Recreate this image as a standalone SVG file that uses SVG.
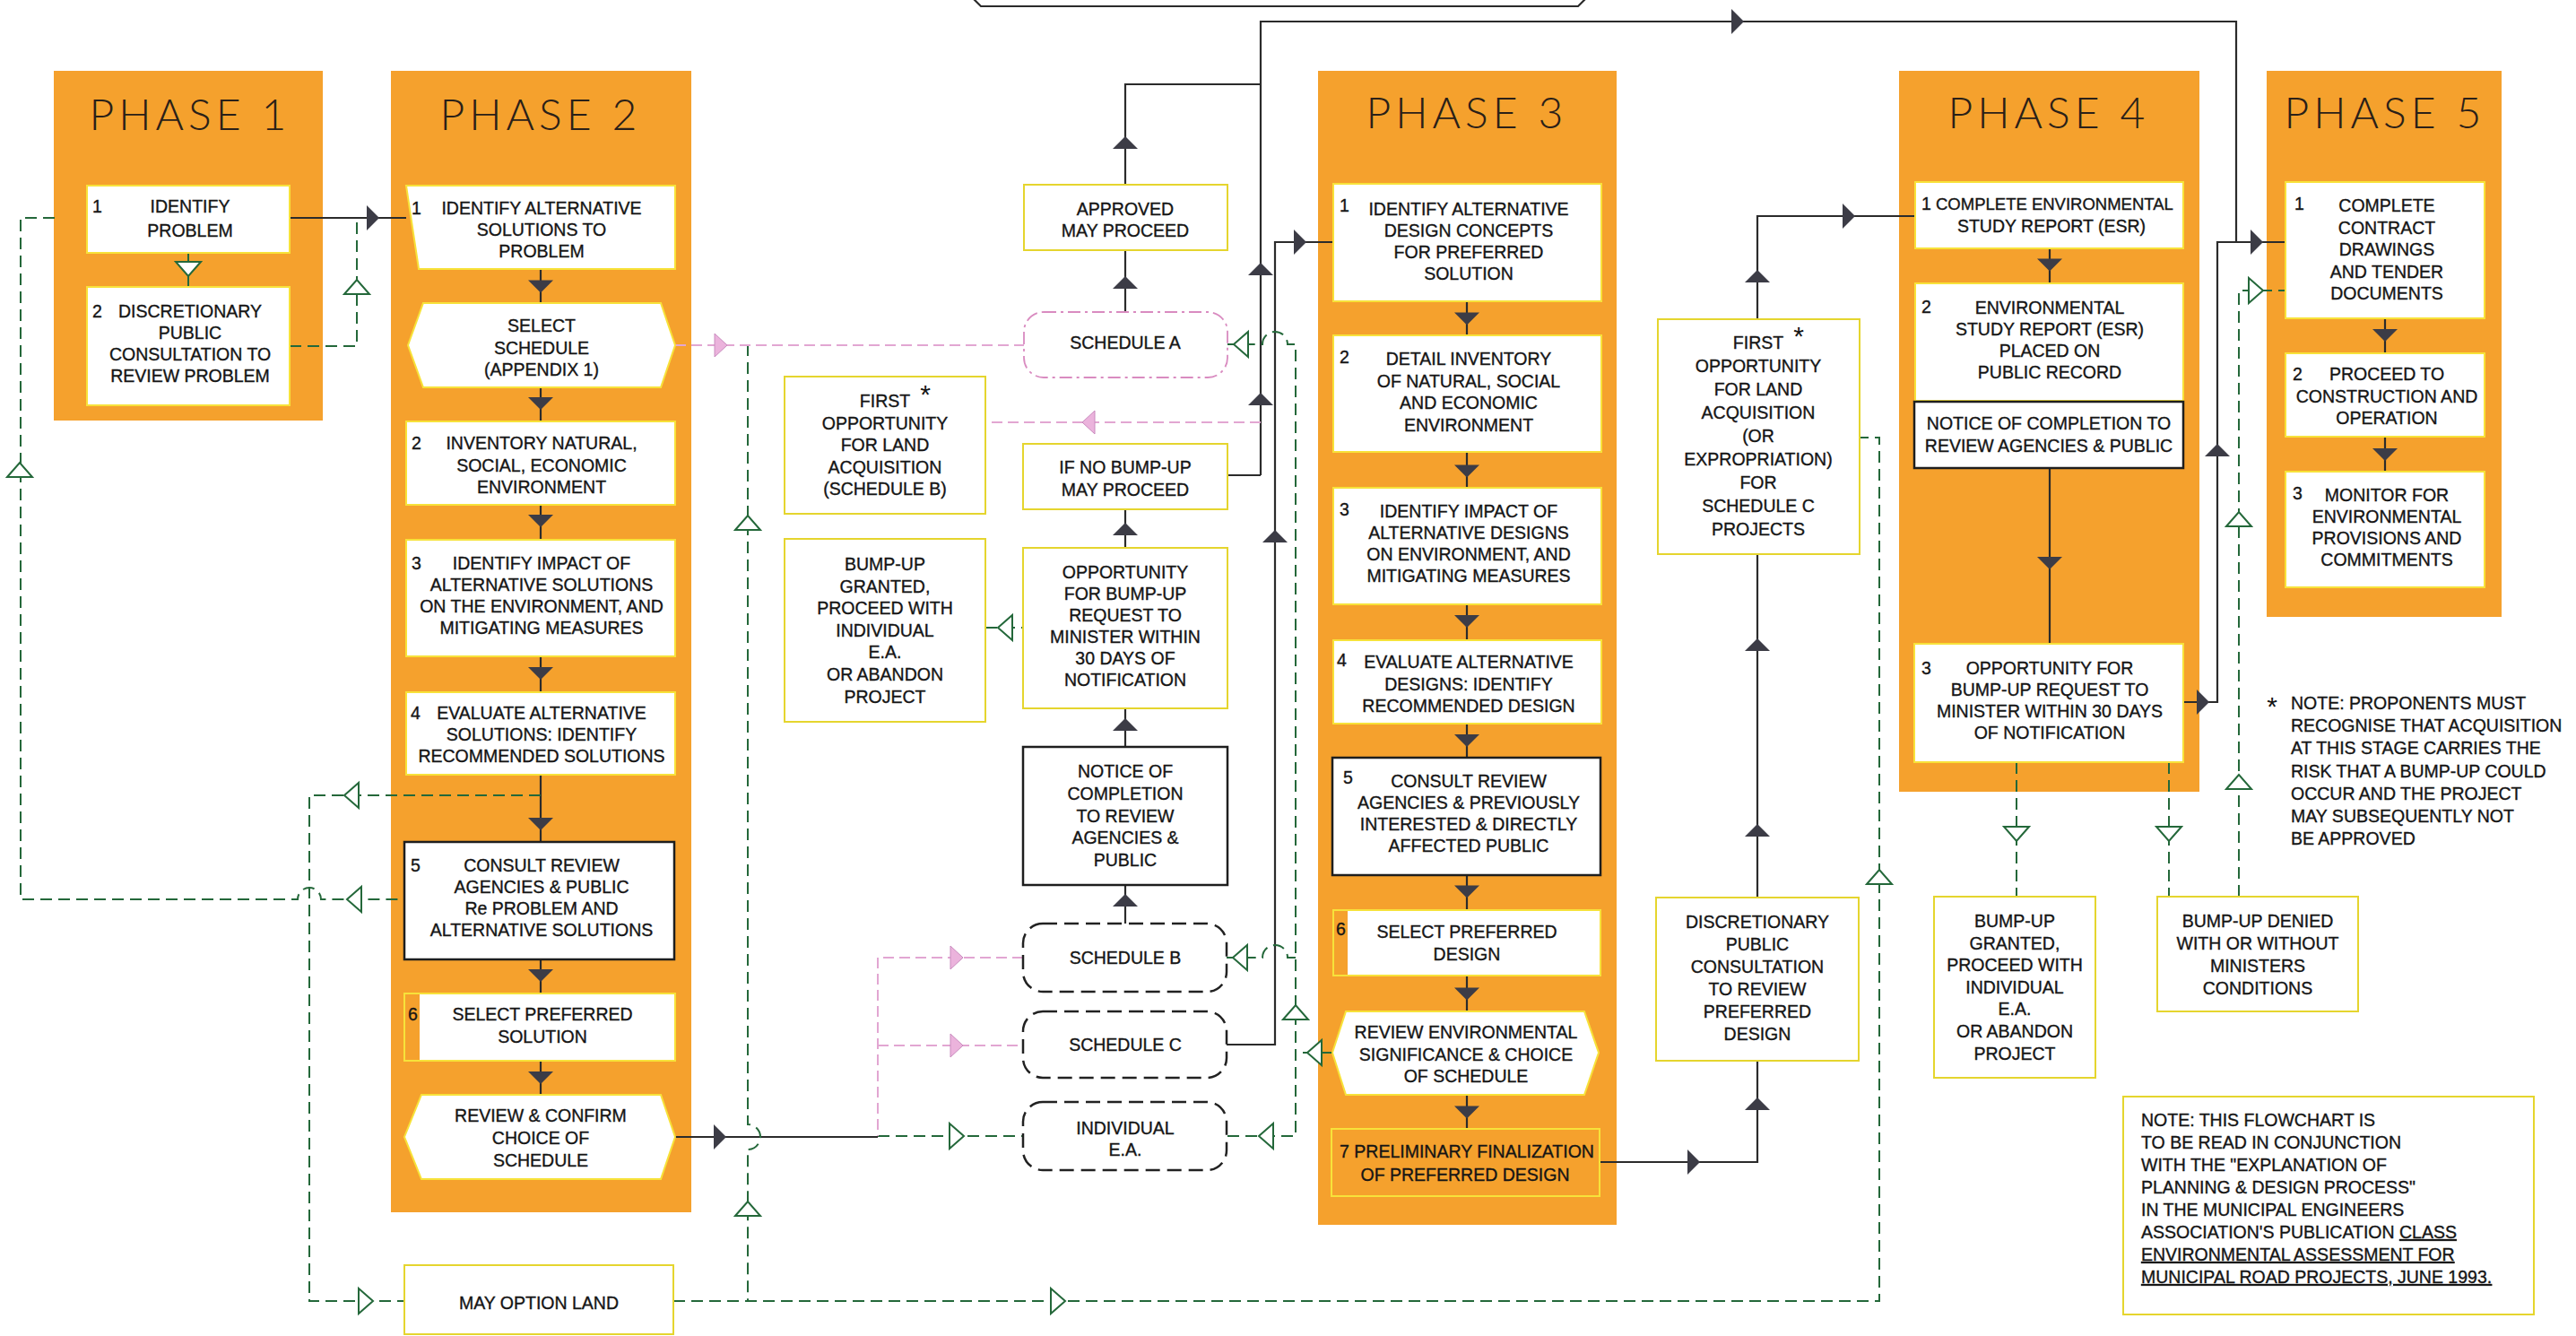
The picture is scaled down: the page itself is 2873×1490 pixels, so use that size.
<svg xmlns="http://www.w3.org/2000/svg" xmlns:xlink="http://www.w3.org/1999/xlink" width="2873" height="1490" viewBox="0 0 2873 1490">
<defs>
<style>
.panel{fill:#F5A12D}
.hd{font-family:Lato,'Open Sans','Liberation Sans',sans-serif;font-weight:300;font-size:48px;letter-spacing:5px;fill:#2a2018;text-anchor:middle}
.t{font-family:'Liberation Sans',Arial,sans-serif;font-size:19.5px;fill:#151515;stroke:#151515;stroke-width:0.35;text-anchor:middle}
.n{font-family:'Liberation Sans',Arial,sans-serif;font-size:19.5px;fill:#151515;stroke:#151515;stroke-width:0.35;text-anchor:start}
.ast{font-family:'Liberation Sans',Arial,sans-serif;font-size:30px;fill:#151515;text-anchor:middle}
.wb{fill:#fff;stroke:#F7E23A;stroke-width:2}
.yb{fill:#fff;stroke:#E5D52E;stroke-width:2}
.kb{fill:#fff;stroke:#1e1e1e;stroke-width:2.5}
.ob{fill:none;stroke:#F7E23A;stroke-width:2}
.sp{fill:#fff;stroke:#D98BC0;stroke-width:1.8;stroke-dasharray:14 5 3 5}
.sk{fill:#fff;stroke:#222;stroke-width:2.5;stroke-dasharray:16 8}
.bk{fill:none;stroke:#2b2b2b;stroke-width:2.2}
.gd{fill:none;stroke:#24683A;stroke-width:2;stroke-dasharray:13 7}
.gs{fill:none;stroke:#24683A;stroke-width:2}
.pd{fill:none;stroke:#E2A6D2;stroke-width:2;stroke-dasharray:12 6}
</style>
<path id="af" d="M-7,-14 L7,0 L-7,14 Z" fill="#3C3C46"/>
<path id="ag" d="M-8,-14 L8,0 L-8,14 Z" fill="#fff" stroke="#24683A" stroke-width="2"/>
<path id="ap" d="M-7,-13 L7,0 L-7,13 Z" fill="#EBB3DC" stroke="#C98BBE" stroke-width="1"/>
</defs>
<rect width="2873" height="1490" fill="#fff"/>

<g id="phase1"><rect class="panel" x="60" y="79" width="300" height="390"/><text class="hd" x="212" y="145">PHASE 1</text></g>
<g id="phase2"><rect class="panel" x="436" y="79" width="335" height="1273"/><text class="hd" x="603" y="145">PHASE 2</text></g>
<g id="phase3"><rect class="panel" x="1470" y="79" width="333" height="1287"/><text class="hd" x="1636" y="143">PHASE 3</text></g>
<g id="phase4"><rect class="panel" x="2118" y="79" width="335" height="804"/><text class="hd" x="2285" y="143">PHASE 4</text></g>
<g id="phase5"><rect class="panel" x="2528" y="79" width="262" height="609"/><text class="hd" x="2660" y="143">PHASE 5</text></g>

<g id="connectors">
<path class="bk" d="M1086 -1 L1094 7 H1760 L1768 -1"/>
<path class="bk" d="M323 243 H453"/>
<path class="bk" d="M603 300 V1221"/>
<path class="bk" d="M753 1268 H979"/>
<path class="bk" d="M1255 1030 V568 M1369 530 H1406"/>
<path class="bk" d="M1255 348 V94 H1406"/>
<path class="bk" d="M1406 530 V24 H2494 V270"/>
<path class="bk" d="M1368 1165 H1422 V270 H1487"/>
<path class="bk" d="M1636 336 V1259"/>
<path class="bk" d="M1784 1296 H1960 V241 H2136"/>
<path class="bk" d="M2286 277 V718"/>
<path class="bk" d="M2435 783 H2473 V270 H2549"/>
<path class="bk" d="M2660 355 V526"/>
<path class="gs" d="M210 282 V320"/>
<path class="gd" d="M323 386 H398 V243"/>
<path class="gd" d="M61 243 H23 V1003 H332 A13 13 0 0 1 358 1003 H451"/>
<path class="gd" d="M603 887 H345 V1451 H451"/>
<path class="gd" d="M751 1451 H2096 V488 H2074"/>
<path class="gd" d="M834 384 V1254 A14 14 0 0 1 834 1282 V1451"/>
<path class="gd" d="M1099 700 H1141"/>
<path class="gd" d="M979 1267 H1141"/>
<path class="gd" d="M1486 1174 H1445"/>
<path class="gd" d="M1369 1267 H1445 V384 H1436 A14 14 0 0 0 1408 384 H1369"/>
<path class="gd" d="M1445 1068 H1436 A14 14 0 0 0 1408 1068 H1368"/>
<path class="gd" d="M2249 850 V1000 M2419 850 V1000"/>
<path class="gd" d="M2497 1000 V324 H2549"/>
<path class="pd" d="M753 385 H1142"/>
<path class="pd" d="M1406 471 H1099"/>
<path class="pd" d="M1141 1068 H979 V1267 M979 1166 H1141"/>

<use href="#af" transform="translate(416,243)"/>
<use href="#af" transform="translate(603,319.5) rotate(90)"/>
<use href="#af" transform="translate(603,450) rotate(90)"/>
<use href="#af" transform="translate(603,581) rotate(90)"/>
<use href="#af" transform="translate(603,751) rotate(90)"/>
<use href="#af" transform="translate(603,919) rotate(90)"/>
<use href="#af" transform="translate(603,1088) rotate(90)"/>
<use href="#af" transform="translate(603,1202) rotate(90)"/>
<use href="#af" transform="translate(803,1268)"/>
<use href="#af" transform="translate(1255,159) rotate(-90)"/>
<use href="#af" transform="translate(1255,315) rotate(-90)"/>
<use href="#af" transform="translate(1255,590) rotate(-90)"/>
<use href="#af" transform="translate(1255,808) rotate(-90)"/>
<use href="#af" transform="translate(1255,1004) rotate(-90)"/>
<use href="#af" transform="translate(1406,300) rotate(-90)"/>
<use href="#af" transform="translate(1406,445) rotate(-90)"/>
<use href="#af" transform="translate(1422,598) rotate(-90)"/>
<use href="#af" transform="translate(1450,270)"/>
<use href="#af" transform="translate(1938,24)"/>
<use href="#af" transform="translate(1636,355.5) rotate(90)"/>
<use href="#af" transform="translate(1636,525.5) rotate(90)"/>
<use href="#af" transform="translate(1636,693) rotate(90)"/>
<use href="#af" transform="translate(1636,826) rotate(90)"/>
<use href="#af" transform="translate(1636,994.5) rotate(90)"/>
<use href="#af" transform="translate(1636,1108.5) rotate(90)"/>
<use href="#af" transform="translate(1636,1240.5) rotate(90)"/>
<use href="#af" transform="translate(1889,1296)"/>
<use href="#af" transform="translate(1960,1231) rotate(-90)"/>
<use href="#af" transform="translate(1960,926) rotate(-90)"/>
<use href="#af" transform="translate(1960,719) rotate(-90)"/>
<use href="#af" transform="translate(1960,308) rotate(-90)"/>
<use href="#af" transform="translate(2062,241)"/>
<use href="#af" transform="translate(2286,295.5) rotate(90)"/>
<use href="#af" transform="translate(2286,628) rotate(90)"/>
<use href="#af" transform="translate(2457,783)"/>
<use href="#af" transform="translate(2473,502) rotate(-90)"/>
<use href="#af" transform="translate(2517,270)"/>
<use href="#af" transform="translate(2660,374) rotate(90)"/>
<use href="#af" transform="translate(2660,507) rotate(90)"/>

<use href="#ag" transform="translate(210,300) rotate(90)"/>
<use href="#ag" transform="translate(398,320) rotate(-90)"/>
<use href="#ag" transform="translate(22,524) rotate(-90)"/>
<use href="#ag" transform="translate(392,887) rotate(180)"/>
<use href="#ag" transform="translate(395,1003) rotate(180)"/>
<use href="#ag" transform="translate(408,1451)"/>
<use href="#ag" transform="translate(834,583) rotate(-90)"/>
<use href="#ag" transform="translate(834,1348) rotate(-90)"/>
<use href="#ag" transform="translate(1180,1451)"/>
<use href="#ag" transform="translate(2096,978) rotate(-90)"/>
<use href="#ag" transform="translate(1121,700) rotate(180)"/>
<use href="#ag" transform="translate(1067,1267)"/>
<use href="#ag" transform="translate(1466,1174) rotate(180)"/>
<use href="#ag" transform="translate(1445,1129) rotate(-90)"/>
<use href="#ag" transform="translate(1384,384) rotate(180)"/>
<use href="#ag" transform="translate(1383,1068) rotate(180)"/>
<use href="#ag" transform="translate(1412,1267) rotate(180)"/>
<use href="#ag" transform="translate(2249,930) rotate(90)"/>
<use href="#ag" transform="translate(2419,930) rotate(90)"/>
<use href="#ag" transform="translate(2497,872) rotate(-90)"/>
<use href="#ag" transform="translate(2497,579) rotate(-90)"/>
<use href="#ag" transform="translate(2516,324)"/>

<use href="#ap" transform="translate(804,385)"/>
<use href="#ap" transform="translate(1214,471) rotate(180)"/>
<use href="#ap" transform="translate(1067,1068)"/>
<use href="#ap" transform="translate(1067,1166)"/>
</g>

<g id="p1-identify-problem"><rect class="wb" x="97" y="207" width="226" height="75"/><text class="n" x="103" y="237">1</text><text class="t" x="212" y="237"><tspan x="212">IDENTIFY</tspan><tspan x="212" dy="27">PROBLEM</tspan></text></g>
<g id="p1-discretionary"><rect class="wb" x="97" y="320" width="226" height="132"/><text class="n" x="103" y="354">2</text><text class="t" x="212" y="354"><tspan x="212">DISCRETIONARY</tspan><tspan x="212" dy="24">PUBLIC</tspan><tspan x="212" dy="24">CONSULTATION TO</tspan><tspan x="212" dy="24">REVIEW PROBLEM</tspan></text></g>

<g id="p2-identify-alternatives"><polygon class="wb" points="453,207 753,207 753,300 467,300"/><text class="n" x="459" y="239">1</text><text class="t" x="604" y="239"><tspan x="604">IDENTIFY ALTERNATIVE</tspan><tspan x="604" dy="24">SOLUTIONS TO</tspan><tspan x="604" dy="24">PROBLEM</tspan></text></g>
<g id="p2-select-schedule"><polygon class="wb" points="455,385 472,338 737,338 753,385 737,432 472,432"/><text class="t" x="604" y="370"><tspan x="604">SELECT</tspan><tspan x="604" dy="24.5">SCHEDULE</tspan><tspan x="604" dy="24.5">(APPENDIX 1)</tspan></text></g>
<g id="p2-inventory"><rect class="wb" x="453" y="470" width="300" height="93"/><text class="n" x="459" y="501">2</text><text class="t" x="604" y="501"><tspan x="604">INVENTORY NATURAL,</tspan><tspan x="604" dy="24.5">SOCIAL, ECONOMIC</tspan><tspan x="604" dy="24.5">ENVIRONMENT</tspan></text></g>
<g id="p2-impact"><rect class="wb" x="453" y="602" width="300" height="130"/><text class="n" x="459" y="635">3</text><text class="t" x="604" y="635"><tspan x="604">IDENTIFY IMPACT OF</tspan><tspan x="604" dy="24">ALTERNATIVE SOLUTIONS</tspan><tspan x="604" dy="24">ON THE ENVIRONMENT, AND</tspan><tspan x="604" dy="24">MITIGATING MEASURES</tspan></text></g>
<g id="p2-evaluate"><rect class="wb" x="453" y="772" width="300" height="92"/><text class="n" x="458" y="802">4</text><text class="t" x="604" y="802"><tspan x="604">EVALUATE ALTERNATIVE</tspan><tspan x="604" dy="24">SOLUTIONS: IDENTIFY</tspan><tspan x="604" dy="24">RECOMMENDED SOLUTIONS</tspan></text></g>
<g id="p2-consult"><rect class="kb" x="451" y="939" width="301" height="131"/><text class="n" x="458" y="972">5</text><text class="t" x="604" y="972"><tspan x="604">CONSULT REVIEW</tspan><tspan x="604" dy="24">AGENCIES &amp; PUBLIC</tspan><tspan x="604" dy="24">Re PROBLEM AND</tspan><tspan x="604" dy="24">ALTERNATIVE SOLUTIONS</tspan></text></g>
<g id="p2-select-preferred"><rect class="wb" x="451" y="1108" width="302" height="75"/><rect class="panel" x="452" y="1109" width="16" height="73"/><text class="n" x="455" y="1138">6</text><text class="t" x="605" y="1138"><tspan x="605">SELECT PREFERRED</tspan><tspan x="605" dy="25">SOLUTION</tspan></text></g>
<g id="p2-review-confirm"><polygon class="wb" points="451,1268 470,1221 737,1221 753,1268 737,1315 470,1315"/><text class="t" x="603" y="1251"><tspan x="603">REVIEW &amp; CONFIRM</tspan><tspan x="603" dy="25">CHOICE OF</tspan><tspan x="603" dy="25">SCHEDULE</tspan></text></g>
<g id="may-option-land"><rect class="yb" x="451" y="1411" width="300" height="77"/><text class="t" x="601" y="1460">MAY OPTION LAND</text></g>

<g id="approved"><rect class="yb" x="1142" y="206" width="227" height="73"/><text class="t" x="1255" y="240"><tspan x="1255">APPROVED</tspan><tspan x="1255" dy="24">MAY PROCEED</tspan></text></g>
<g id="schedule-a"><rect class="sp" x="1142" y="348" width="227" height="73" rx="22"/><text class="t" x="1255" y="389">SCHEDULE A</text></g>
<g id="first-opportunity-b"><rect class="yb" x="875" y="420" width="224" height="153"/><text class="t" x="987" y="454"><tspan x="987">FIRST</tspan><tspan x="987" dy="24.5">OPPORTUNITY</tspan><tspan x="987" dy="24.5">FOR LAND</tspan><tspan x="987" dy="24.5">ACQUISITION</tspan><tspan x="987" dy="24.5">(SCHEDULE B)</tspan></text><text class="ast" x="1032" y="450">*</text></g>
<g id="if-no-bump-up"><rect class="yb" x="1141" y="495" width="228" height="73"/><text class="t" x="1255" y="528"><tspan x="1255">IF NO BUMP-UP</tspan><tspan x="1255" dy="25">MAY PROCEED</tspan></text></g>
<g id="bump-up-granted-b"><rect class="yb" x="875" y="601" width="224" height="204"/><text class="t" x="987" y="636"><tspan x="987">BUMP-UP</tspan><tspan x="987" dy="24.6">GRANTED,</tspan><tspan x="987" dy="24.6">PROCEED WITH</tspan><tspan x="987" dy="24.6">INDIVIDUAL</tspan><tspan x="987" dy="24.6">E.A.</tspan><tspan x="987" dy="24.6">OR ABANDON</tspan><tspan x="987" dy="24.6">PROJECT</tspan></text></g>
<g id="opportunity-bump-up"><rect class="yb" x="1141" y="611" width="228" height="179"/><text class="t" x="1255" y="645"><tspan x="1255">OPPORTUNITY</tspan><tspan x="1255" dy="24">FOR BUMP-UP</tspan><tspan x="1255" dy="24">REQUEST TO</tspan><tspan x="1255" dy="24">MINISTER WITHIN</tspan><tspan x="1255" dy="24">30 DAYS OF</tspan><tspan x="1255" dy="24">NOTIFICATION</tspan></text></g>
<g id="notice-of-completion"><rect class="kb" x="1141" y="833" width="228" height="154"/><text class="t" x="1255" y="867"><tspan x="1255">NOTICE OF</tspan><tspan x="1255" dy="24.8">COMPLETION</tspan><tspan x="1255" dy="24.8">TO REVIEW</tspan><tspan x="1255" dy="24.8">AGENCIES &amp;</tspan><tspan x="1255" dy="24.8">PUBLIC</tspan></text></g>
<g id="schedule-b"><rect class="sk" x="1141" y="1030" width="227" height="76" rx="22"/><text class="t" x="1255" y="1075">SCHEDULE B</text></g>
<g id="schedule-c"><rect class="sk" x="1141" y="1128" width="227" height="74" rx="22"/><text class="t" x="1255" y="1172">SCHEDULE C</text></g>
<g id="individual-ea"><rect class="sk" x="1141" y="1229" width="227" height="76" rx="22"/><text class="t" x="1255" y="1265"><tspan x="1255">INDIVIDUAL</tspan><tspan x="1255" dy="24">E.A.</tspan></text></g>

<g id="p3-identify-concepts"><rect class="wb" x="1487" y="205" width="299" height="131"/><text class="n" x="1494" y="236">1</text><text class="t" x="1638" y="240"><tspan x="1638">IDENTIFY ALTERNATIVE</tspan><tspan x="1638" dy="24">DESIGN CONCEPTS</tspan><tspan x="1638" dy="24">FOR PREFERRED</tspan><tspan x="1638" dy="24">SOLUTION</tspan></text></g>
<g id="p3-detail-inventory"><rect class="wb" x="1487" y="374" width="299" height="130"/><text class="n" x="1494" y="405">2</text><text class="t" x="1638" y="407"><tspan x="1638">DETAIL INVENTORY</tspan><tspan x="1638" dy="24.5">OF NATURAL, SOCIAL</tspan><tspan x="1638" dy="24.5">AND ECONOMIC</tspan><tspan x="1638" dy="24.5">ENVIRONMENT</tspan></text></g>
<g id="p3-impact"><rect class="wb" x="1487" y="544" width="299" height="130"/><text class="n" x="1494" y="575">3</text><text class="t" x="1638" y="577"><tspan x="1638">IDENTIFY IMPACT OF</tspan><tspan x="1638" dy="24">ALTERNATIVE DESIGNS</tspan><tspan x="1638" dy="24">ON ENVIRONMENT, AND</tspan><tspan x="1638" dy="24">MITIGATING MEASURES</tspan></text></g>
<g id="p3-evaluate"><rect class="wb" x="1487" y="714" width="299" height="93"/><text class="n" x="1491" y="743">4</text><text class="t" x="1638" y="745"><tspan x="1638">EVALUATE ALTERNATIVE</tspan><tspan x="1638" dy="24.5">DESIGNS: IDENTIFY</tspan><tspan x="1638" dy="24.5">RECOMMENDED DESIGN</tspan></text></g>
<g id="p3-consult"><rect class="kb" x="1486" y="845" width="299" height="131"/><text class="n" x="1498" y="874">5</text><text class="t" x="1638" y="878"><tspan x="1638">CONSULT REVIEW</tspan><tspan x="1638" dy="24">AGENCIES &amp; PREVIOUSLY</tspan><tspan x="1638" dy="24">INTERESTED &amp; DIRECTLY</tspan><tspan x="1638" dy="24">AFFECTED PUBLIC</tspan></text></g>
<g id="p3-select-preferred"><rect class="wb" x="1487" y="1015" width="298" height="73"/><rect class="panel" x="1488" y="1016" width="15" height="71"/><text class="n" x="1490" y="1043">6</text><text class="t" x="1636" y="1046"><tspan x="1636">SELECT PREFERRED</tspan><tspan x="1636" dy="25">DESIGN</tspan></text></g>
<g id="p3-review-significance"><polygon class="wb" points="1486,1174 1501,1128 1767,1128 1783,1174 1767,1221 1501,1221"/><text class="t" x="1635" y="1158"><tspan x="1635">REVIEW ENVIRONMENTAL</tspan><tspan x="1635" dy="24.5">SIGNIFICANCE &amp; CHOICE</tspan><tspan x="1635" dy="24.5">OF SCHEDULE</tspan></text></g>
<g id="p3-preliminary"><rect class="ob" x="1485" y="1259" width="299" height="75"/><text class="t" x="1636" y="1291"><tspan x="1636">7 PRELIMINARY FINALIZATION</tspan><tspan x="1634" dy="26">OF PREFERRED DESIGN</tspan></text></g>

<g id="first-opportunity-c"><rect class="yb" x="1849" y="356" width="225" height="262"/><text class="t" x="1961" y="389"><tspan x="1961">FIRST</tspan><tspan x="1961" dy="26">OPPORTUNITY</tspan><tspan x="1961" dy="26">FOR LAND</tspan><tspan x="1961" dy="26">ACQUISITION</tspan><tspan x="1961" dy="26">(OR</tspan><tspan x="1961" dy="26">EXPROPRIATION)</tspan><tspan x="1961" dy="26">FOR</tspan><tspan x="1961" dy="26">SCHEDULE C</tspan><tspan x="1961" dy="26">PROJECTS</tspan></text><text class="ast" x="2006" y="385">*</text></g>
<g id="discretionary-design"><rect class="yb" x="1847" y="1001" width="226" height="182"/><text class="t" x="1960" y="1035"><tspan x="1960">DISCRETIONARY</tspan><tspan x="1960" dy="25">PUBLIC</tspan><tspan x="1960" dy="25">CONSULTATION</tspan><tspan x="1960" dy="25">TO REVIEW</tspan><tspan x="1960" dy="25">PREFERRED</tspan><tspan x="1960" dy="25">DESIGN</tspan></text></g>

<g id="p4-complete-esr"><rect class="wb" x="2136" y="203" width="299" height="74"/><text class="n" x="2143" y="234">1</text><text class="n" x="2159" y="234" style="font-size:18.5px">COMPLETE ENVIRONMENTAL</text><text class="t" x="2288" y="259">STUDY REPORT (ESR)</text></g>
<g id="p4-esr-public"><rect class="wb" x="2136" y="316" width="299" height="131"/><text class="n" x="2143" y="349">2</text><text class="t" x="2286" y="350"><tspan x="2286">ENVIRONMENTAL</tspan><tspan x="2286" dy="24">STUDY REPORT (ESR)</tspan><tspan x="2286" dy="24">PLACED ON</tspan><tspan x="2286" dy="24">PUBLIC RECORD</tspan></text></g>
<g id="p4-notice"><rect class="kb" x="2135" y="448" width="300" height="74"/><text class="t" x="2285" y="479"><tspan x="2285">NOTICE OF COMPLETION TO</tspan><tspan x="2285" dy="25">REVIEW AGENCIES &amp; PUBLIC</tspan></text></g>
<g id="p4-opportunity"><rect class="wb" x="2135" y="718" width="300" height="132"/><text class="n" x="2143" y="752">3</text><text class="t" x="2286" y="752"><tspan x="2286">OPPORTUNITY FOR</tspan><tspan x="2286" dy="24">BUMP-UP REQUEST TO</tspan><tspan x="2286" dy="24">MINISTER WITHIN 30 DAYS</tspan><tspan x="2286" dy="24">OF NOTIFICATION</tspan></text></g>
<g id="bump-up-granted-4"><rect class="yb" x="2157" y="1000" width="180" height="202"/><text class="t" x="2247" y="1034"><tspan x="2247">BUMP-UP</tspan><tspan x="2247" dy="24.6">GRANTED,</tspan><tspan x="2247" dy="24.6">PROCEED WITH</tspan><tspan x="2247" dy="24.6">INDIVIDUAL</tspan><tspan x="2247" dy="24.6">E.A.</tspan><tspan x="2247" dy="24.6">OR ABANDON</tspan><tspan x="2247" dy="24.6">PROJECT</tspan></text></g>
<g id="bump-up-denied"><rect class="yb" x="2406" y="1000" width="224" height="128"/><text class="t" x="2518" y="1034"><tspan x="2518">BUMP-UP DENIED</tspan><tspan x="2518" dy="25">WITH OR WITHOUT</tspan><tspan x="2518" dy="25">MINISTERS</tspan><tspan x="2518" dy="25">CONDITIONS</tspan></text></g>

<g id="p5-contract"><rect class="wb" x="2549" y="203" width="222" height="152"/><text class="n" x="2559" y="234">1</text><text class="t" x="2662" y="236"><tspan x="2662">COMPLETE</tspan><tspan x="2662" dy="24.5">CONTRACT</tspan><tspan x="2662" dy="24.5">DRAWINGS</tspan><tspan x="2662" dy="24.5">AND TENDER</tspan><tspan x="2662" dy="24.5">DOCUMENTS</tspan></text></g>
<g id="p5-construction"><rect class="wb" x="2549" y="394" width="222" height="93"/><text class="n" x="2557" y="424">2</text><text class="t" x="2662" y="424"><tspan x="2662">PROCEED TO</tspan><tspan x="2662" dy="24.5">CONSTRUCTION AND</tspan><tspan x="2662" dy="24.5">OPERATION</tspan></text></g>
<g id="p5-monitor"><rect class="wb" x="2549" y="526" width="222" height="129"/><text class="n" x="2557" y="557">3</text><text class="t" x="2662" y="559"><tspan x="2662">MONITOR FOR</tspan><tspan x="2662" dy="24">ENVIRONMENTAL</tspan><tspan x="2662" dy="24">PROVISIONS AND</tspan><tspan x="2662" dy="24">COMMITMENTS</tspan></text></g>

<g id="footnote"><text class="ast" x="2534" y="798">*</text><text class="n" x="2555" y="791"><tspan x="2555">NOTE: PROPONENTS MUST</tspan><tspan x="2555" dy="25.2">RECOGNISE THAT ACQUISITION</tspan><tspan x="2555" dy="25.2">AT THIS STAGE CARRIES THE</tspan><tspan x="2555" dy="25.2">RISK THAT A BUMP-UP COULD</tspan><tspan x="2555" dy="25.2">OCCUR AND THE PROJECT</tspan><tspan x="2555" dy="25.2">MAY SUBSEQUENTLY NOT</tspan><tspan x="2555" dy="25.2">BE APPROVED</tspan></text></g>
<g id="note-box"><rect class="yb" x="2368" y="1223" width="458" height="243"/><text class="n" x="2388" y="1256"><tspan x="2388">NOTE: THIS FLOWCHART IS</tspan><tspan x="2388" dy="25">TO BE READ IN CONJUNCTION</tspan><tspan x="2388" dy="25">WITH THE "EXPLANATION OF</tspan><tspan x="2388" dy="25">PLANNING &amp; DESIGN PROCESS"</tspan><tspan x="2388" dy="25">IN THE MUNICIPAL ENGINEERS</tspan><tspan x="2388" dy="25">ASSOCIATION'S PUBLICATION </tspan><tspan text-decoration="underline">CLASS</tspan><tspan x="2388" dy="25" text-decoration="underline">ENVIRONMENTAL ASSESSMENT FOR</tspan><tspan x="2388" dy="25" text-decoration="underline">MUNICIPAL ROAD PROJECTS, JUNE 1993.</tspan></text></g>
</svg>
